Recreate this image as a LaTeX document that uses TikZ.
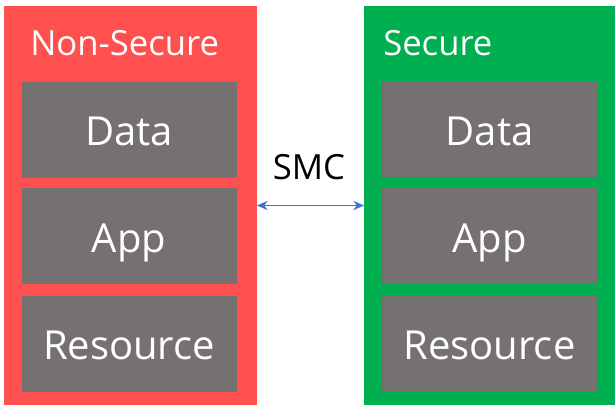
\documentclass[tikz,border=0pt]{standalone}
\usepackage{fontspec}
\setmainfont{Open Sans}
\usepackage{xcolor}
\usepackage{tikz}
\usetikzlibrary{positioning, arrows.meta}

\definecolor{nsred}{RGB}{255,80,80}
\definecolor{sgreen}{RGB}{0,176,80}
\definecolor{boxgray}{RGB}{118,113,113}
\definecolor{smcblue}{RGB}{68,114,196}

\begin{document}
\begin{tikzpicture}[x=0.75pt,y=0.75pt,yscale=-1,xscale=1,
  panel/.style={inner sep=0pt, outer sep=0pt, minimum height=299.25pt},
  worldbox/.style={fill=boxgray, inner sep=0pt, minimum width=161.25pt,
    minimum height=72pt, text=white, text height=24pt, text depth=0pt,
    font=\fontsize{30}{36}\selectfont},
  worldtitle/.style={anchor=base west, inner sep=0pt, text=white,
    font=\fontsize{26}{31}\selectfont},
  smcarrow/.style={draw=smcblue, line width=0.9pt,
    {Stealth[length=8pt,width=7pt]}-{Stealth[length=8pt,width=7pt]}}]
%set diagram size
\useasboundingbox (0,0) rectangle (615,405);

%Shape: Rectangle [id:nonsecure]
\node [panel, fill=nsred, minimum width=189.75pt] (nonsecure) at (130.5,205.5) {};
%Shape: Rectangle [id:secure]
\node [panel, fill=sgreen, minimum width=188.25pt] (secure) at (489.5,205.5) {};

% Text Node
\node [worldtitle] (nstitle) at (30,55) {Non-Secure};
% Text Node
\node [worldtitle] (stitle) at (383,55) {Secure};

%Shape: Rectangle [id:nsdata]
\node [worldbox] (nsdata) at (129,129.5) {Data};
%Shape: Rectangle [id:nsapp]
\node [worldbox] (nsapp) at (129,236) {App};
%Shape: Rectangle [id:nsres]
\node [worldbox] (nsres) at (129,343.5) {Resource};

%Shape: Rectangle [id:sdata]
\node [worldbox] (sdata) at (489.5,129.5) {Data};
%Shape: Rectangle [id:sapp]
\node [worldbox] (sapp) at (489.5,236) {App};
%Shape: Rectangle [id:sres]
\node [worldbox] (sres) at (489.5,343.5) {Resource};

% Text Node
\node [anchor=base, inner sep=0pt, font=\fontsize{26}{31}\selectfont] (smc) at (309,179) {SMC};

%Straight Lines [id:smcline]
\draw [smcarrow] (nonsecure.east) -- (secure.west);

\end{tikzpicture}
\end{document}
